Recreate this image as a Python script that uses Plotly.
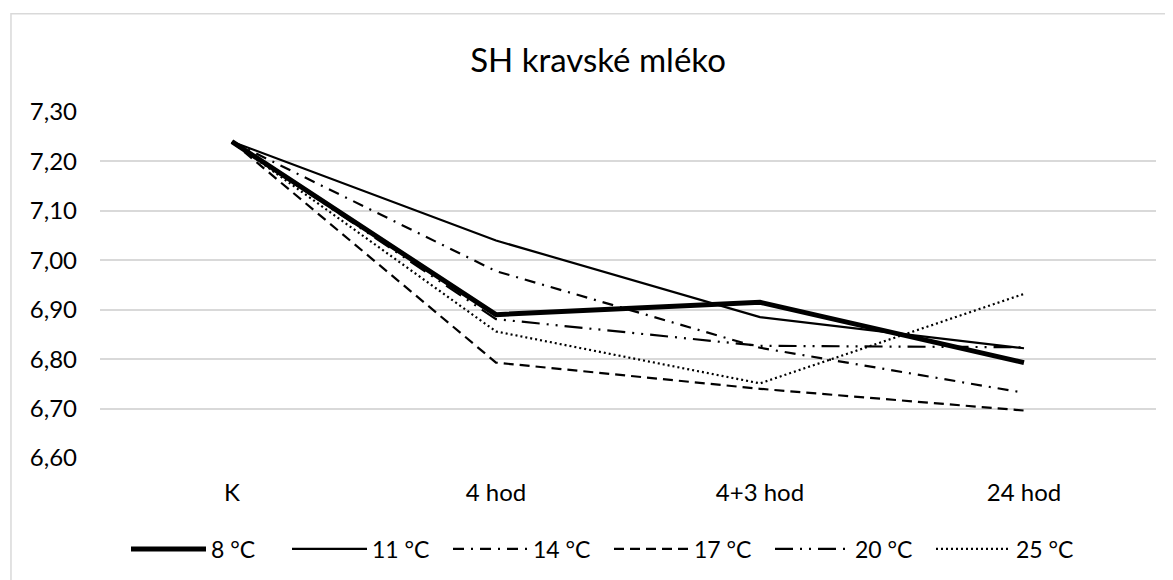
import plotly.graph_objects as go

# SH of cow milk at several storage temperatures
categories = ["K", "4 hod", "4+3 hod", "24 hod"]

t8 = [7.24, 6.890, 6.915, 6.793]
t11 = [7.24, 7.040, 6.885, 6.822]
t14 = [7.24, 6.978, 6.823, 6.732]
t17 = [7.24, 6.793, 6.740, 6.696]
t20 = [7.24, 6.881, 6.827, 6.824]
t25 = [7.24, 6.856, 6.751, 6.932]

series_names = ["8 °C", "11 °C", "14 °C", "17 °C", "20 °C", "25 °C"]

FONT = "Lato, Carlito, Calibri, sans-serif"

styles = [
    dict(width=5, dash="solid"),
    dict(width=2.2, dash="solid"),
    dict(width=2.2, dash="11px,7px,2px,7px"),
    dict(width=2.2, dash="10px,6px"),
    dict(width=2.2, dash="18px,7px,2px,7px,2px,7px"),
    dict(width=2.2, dash="2px,3px"),
]

fig = go.Figure()
for name, vals, st in zip(series_names, [t8, t11, t14, t17, t20, t25], styles):
    fig.add_trace(go.Scatter(
        x=categories,
        y=vals,
        name=name,
        mode="lines",
        line=dict(color="black", width=st["width"], dash=st["dash"]),
    ))

# outer chart frame (only top/left visible in the original)
fig.add_shape(type="rect", xref="paper", yref="paper",
              x0=-0.0843, x1=1.03, y0=-0.40, y1=1.284,
              line=dict(color="#d9d9d9", width=1.5), layer="below")

W, H = 1165, 572  # page body adds an 8px offset

fig.update_layout(
    width=W,
    height=H,
    paper_bgcolor="white",
    plot_bgcolor="white",
    separators=", ",
    font=dict(family=FONT, color="black"),
    margin=dict(l=92, r=17, t=104, b=122),
    title=dict(text="SH kravské mléko", x=590 / W, xanchor="center",
               y=1 - 52 / H, yref="container", yanchor="middle",
               font=dict(family=FONT, size=33, color="black")),
    showlegend=True,
    legend=dict(orientation="h", xref="container", yref="container",
                x=118 / W, xanchor="left", y=1 - 541 / H, yanchor="middle",
                font=dict(family=FONT, size=23, color="black"),
                itemwidth=75, entrywidth=71, traceorder="normal"),
    xaxis=dict(type="category", range=[-0.5, 3.5], showgrid=False,
               showline=False, zeroline=False, ticks="",
               ticklabelstandoff=18,
               tickfont=dict(family=FONT, size=24, color="black")),
    yaxis=dict(range=[6.6, 7.3], dtick=0.1, tick0=6.6, tickformat=".2f",
               showgrid=True, gridcolor="#d9d9d9", gridwidth=1.5,
               zeroline=False, showline=False, ticks="",
               ticklabelstandoff=22,
               tickfont=dict(family=FONT, size=24, color="black")),
)

fig.write_html("out.html")
